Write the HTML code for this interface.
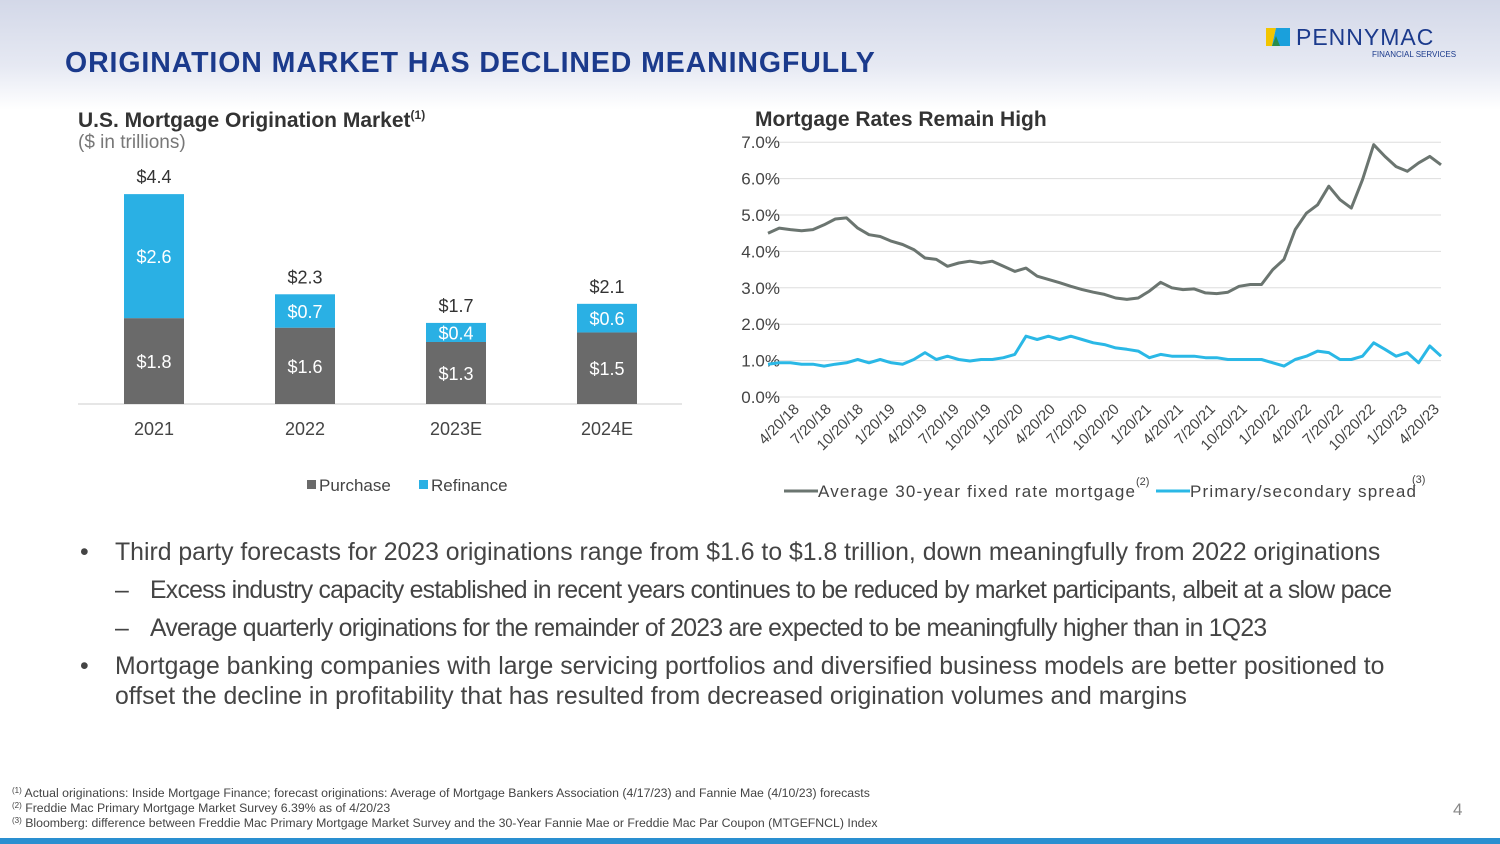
<!DOCTYPE html>
<html><head><meta charset="utf-8">
<style>
body{margin:0;width:1500px;height:844px;overflow:hidden;font-family:"Liberation Sans",sans-serif;background:#fff;position:relative}
.bg{position:absolute;left:0;top:0;width:1500px;height:110px;background:linear-gradient(#d3d8e8,#e6e9f3 60%,#fff)}
.abs{position:absolute}
.title{left:65px;top:47px;font-size:28.5px;font-weight:bold;color:#1b3a8c;letter-spacing:0.9px}
.sub{font-size:21px;font-weight:bold;color:#333}
.bul{font-size:24.8px;color:#444;line-height:30px}
.bul .it{position:relative;margin-top:8px}
.bul .nw{white-space:nowrap}
.bul .sb{letter-spacing:-0.75px}
.bul .mk{position:absolute;letter-spacing:0}
.fn{font-size:12.3px;color:#444;line-height:15px}
.fn sup{font-size:8px;line-height:0;vertical-align:4px}
</style></head><body>
<div class="bg"></div>
<div class="abs title">ORIGINATION MARKET HAS DECLINED MEANINGFULLY</div>
<div class="abs" style="left:1266px;top:26px">
 <svg width="24" height="20" style="position:absolute;left:0;top:2px"><polygon points="0,0 10,0 6,18 0,18" fill="#f2c500"/><polygon points="10,0 24,0 24,18 6,18" fill="#1aa0dc"/><polygon points="6,18 10,8 14,18" fill="#2a8c4a"/></svg>
 <div style="position:absolute;left:30px;top:-2px;font-size:23px;color:#1b3a8c;letter-spacing:1px">PENNYMAC</div>
 <div style="position:absolute;left:106px;top:24px;font-size:8px;color:#1b3a8c;white-space:nowrap">FINANCIAL SERVICES</div>
</div>
<div class="abs sub" style="left:78px;top:108px">U.S. Mortgage Origination Market<sup style="font-size:12px">(1)</sup></div>
<div class="abs" style="left:78px;top:132px;font-size:19px;color:#777">($ in trillions)</div>
<div class="abs sub" style="left:755px;top:108px">Mortgage Rates Remain High</div>

<svg class="abs" style="left:0;top:0" width="1500" height="844" id="charts"></svg>

<div class="abs bul" style="left:80px;top:530px;width:1312px">
<div class="it nw" style="padding-left:35px"><span class="mk" style="left:0">•</span>Third party forecasts for 2023 originations range from $1.6 to $1.8 trillion, down meaningfully from 2022 originations</div>
<div class="it nw sb" style="padding-left:70px"><span class="mk" style="left:35px">–</span>Excess industry capacity established in recent years continues to be reduced by market participants, albeit at a slow pace</div>
<div class="it nw sb" style="padding-left:70px"><span class="mk" style="left:35px">–</span>Average quarterly originations for the remainder of 2023 are expected to be meaningfully higher than in 1Q23</div>
<div class="it" style="padding-left:35px"><span class="mk" style="left:0">•</span>Mortgage banking companies with large servicing portfolios and diversified business models are better positioned to offset the decline in profitability that has resulted from decreased origination volumes and margins</div>
</div>
<div class="abs fn" style="left:12px;top:786px">
<div><sup>(1)</sup> Actual originations: Inside Mortgage Finance; forecast originations: Average of Mortgage Bankers Association (4/17/23) and Fannie Mae (4/10/23) forecasts</div>
<div><sup>(2)</sup> Freddie Mac Primary Mortgage Market Survey 6.39% as of 4/20/23</div>
<div><sup>(3)</sup> Bloomberg: difference between Freddie Mac Primary Mortgage Market Survey and the 30-Year Fannie Mae or Freddie Mac Par Coupon (MTGEFNCL) Index</div>
</div>
<div class="abs" style="left:1453px;top:800px;font-size:17px;color:#888">4</div>
<div class="abs" style="left:0;top:838px;width:1500px;height:6px;background:#2a8fd0"></div>

<script>
const barCategories=["2021","2022","2023E","2024E"];
const purchaseValues=[1.8,1.6,1.3,1.5];
const refinanceValues=[2.6,0.7,0.4,0.6];
const totalValues=[4.4,2.3,1.7,2.1];

const dateLabels=["4/20/18","7/20/18","10/20/18","1/20/19","4/20/19","7/20/19","10/20/19","1/20/20","4/20/20","7/20/20","10/20/20","1/20/21","4/20/21","7/20/21","10/20/21","1/20/22","4/20/22","7/20/22","10/20/22","1/20/23","4/20/23"];
const rateTicks=[0,1,2,3,4,5,6,7];
const mortgageRate=[4.5,4.64,4.6,4.57,4.6,4.73,4.89,4.92,4.64,4.46,4.41,4.28,4.19,4.05,3.82,3.78,3.59,3.68,3.73,3.68,3.73,3.59,3.45,3.54,3.32,3.23,3.14,3.04,2.95,2.88,2.82,2.72,2.68,2.72,2.91,3.15,3.0,2.95,2.97,2.86,2.84,2.88,3.04,3.09,3.09,3.5,3.78,4.6,5.05,5.28,5.79,5.42,5.19,5.97,6.93,6.61,6.33,6.2,6.43,6.61,6.38];
const spreadRate=[0.9,0.94,0.94,0.9,0.9,0.85,0.9,0.94,1.03,0.94,1.03,0.94,0.9,1.03,1.22,1.03,1.12,1.03,0.99,1.03,1.03,1.08,1.17,1.67,1.58,1.67,1.58,1.67,1.58,1.49,1.44,1.35,1.31,1.26,1.08,1.17,1.12,1.12,1.12,1.08,1.08,1.03,1.03,1.03,1.03,0.94,0.85,1.03,1.12,1.26,1.22,1.03,1.03,1.12,1.49,1.31,1.12,1.22,0.94,1.4,1.12];

const NS="http://www.w3.org/2000/svg";
const svg=document.getElementById('charts');
function mk(tag,attrs,parent){const e=document.createElementNS(NS,tag);for(const k in attrs)e.setAttribute(k,attrs[k]);(parent||svg).appendChild(e);return e;}
function txt(s,attrs,parent){const t=mk('text',Object.assign({'font-family':'Liberation Sans, sans-serif'},attrs),parent);t.textContent=s;return t;}

// bar chart
const baseY=404, pxPerT=47.7;
const bx=i=>154+i*151;
const by=v=>baseY-v*pxPerT;
const ax=mk('line',{x1:78,x2:682,y1:baseY,y2:baseY,stroke:'#ccc','stroke-width':1});


barCategories.forEach((c,i)=>{
  const x=bx(i);
  const p=mk('rect',{x:x-30,y:by(purchaseValues[i]),width:60,height:purchaseValues[i]*pxPerT,fill:'#6a6a6a'});
  
  
  const r=mk('rect',{x:x-30,y:by(purchaseValues[i]+refinanceValues[i]),width:60,height:refinanceValues[i]*pxPerT,fill:'#2ab0e4'});
  
  
  const t1=txt('$'+purchaseValues[i].toFixed(1),{x:x,y:by(purchaseValues[i]/2)+7,'text-anchor':'middle','font-size':18,fill:'#fff'});
  
  
  const t2=txt('$'+refinanceValues[i].toFixed(1),{x:x,y:by(purchaseValues[i]+refinanceValues[i]/2)+7,'text-anchor':'middle','font-size':18,fill:'#fff'});
  
  
  const t3=txt('$'+totalValues[i].toFixed(1),{x:x,y:by(totalValues[i])-11,'text-anchor':'middle','font-size':18,fill:'#333'});
  
  
  const t4=txt(c,{x:x,y:435,'text-anchor':'middle','font-size':18,fill:'#444'});
  
  
});
const lg1=mk('g',{});


mk('rect',{x:307,y:480,width:9,height:9,fill:'#6a6a6a'},lg1);
txt('Purchase',{x:319,y:491,'font-size':17,fill:'#444'},lg1);
mk('rect',{x:419,y:480,width:9,height:9,fill:'#2ab0e4'},lg1);
txt('Refinance',{x:431,y:491,'font-size':17,fill:'#444'},lg1);

// line chart
const x0=768,x1=1441,y0=397,pxPerPct=36.4;
const lx=i=>x0+i*(x1-x0)/(mortgageRate.length-1);
const ly=v=>y0-v*pxPerPct;
rateTicks.forEach(t=>{
  const g=mk('line',{x1:x0,x2:x1,y1:ly(t),y2:ly(t),stroke:'#ddd','stroke-width':1});
  
  
  const l=txt(t.toFixed(1)+'%',{x:780,y:ly(t)+6,'text-anchor':'end','font-size':17,fill:'#444'});
  
  
});
const lblx=i=>800+i*(1440-800)/(dateLabels.length-1);
dateLabels.forEach((d,i)=>{
  const t=txt(d,{x:lblx(i),y:410,'text-anchor':'end','font-size':15,fill:'#444',transform:`rotate(-45 ${lblx(i)} 410)`});
  
  
});
function path(arr,color,name){
  const p=mk('path',{d:arr.map((v,i)=>(i?'L':'M')+lx(i).toFixed(1)+','+ly(v).toFixed(1)).join(''),fill:'none',stroke:color,'stroke-width':3,'stroke-linejoin':'round'});
  
  
}
path(mortgageRate,'#6b7570','line-30yr-mortgage-rate');
path(spreadRate,'#2ab8e6','line-primary-secondary-spread');
const lg2=mk('g',{});


mk('line',{x1:784,x2:818,y1:491,y2:491,stroke:'#6b7570','stroke-width':3},lg2);
txt('Average 30-year fixed rate mortgage',{x:818,y:497,'font-size':17,fill:'#444',textLength:317},lg2);
txt('(2)',{x:1136,y:485,'font-size':11,fill:'#444'},lg2);
mk('line',{x1:1156,x2:1190,y1:491,y2:491,stroke:'#2ab8e6','stroke-width':3},lg2);
txt('Primary/secondary spread',{x:1190,y:497,'font-size':17,fill:'#444',textLength:226},lg2);
txt('(3)',{x:1412,y:483,'font-size':11,fill:'#444'},lg2);
</script>
</body></html>
